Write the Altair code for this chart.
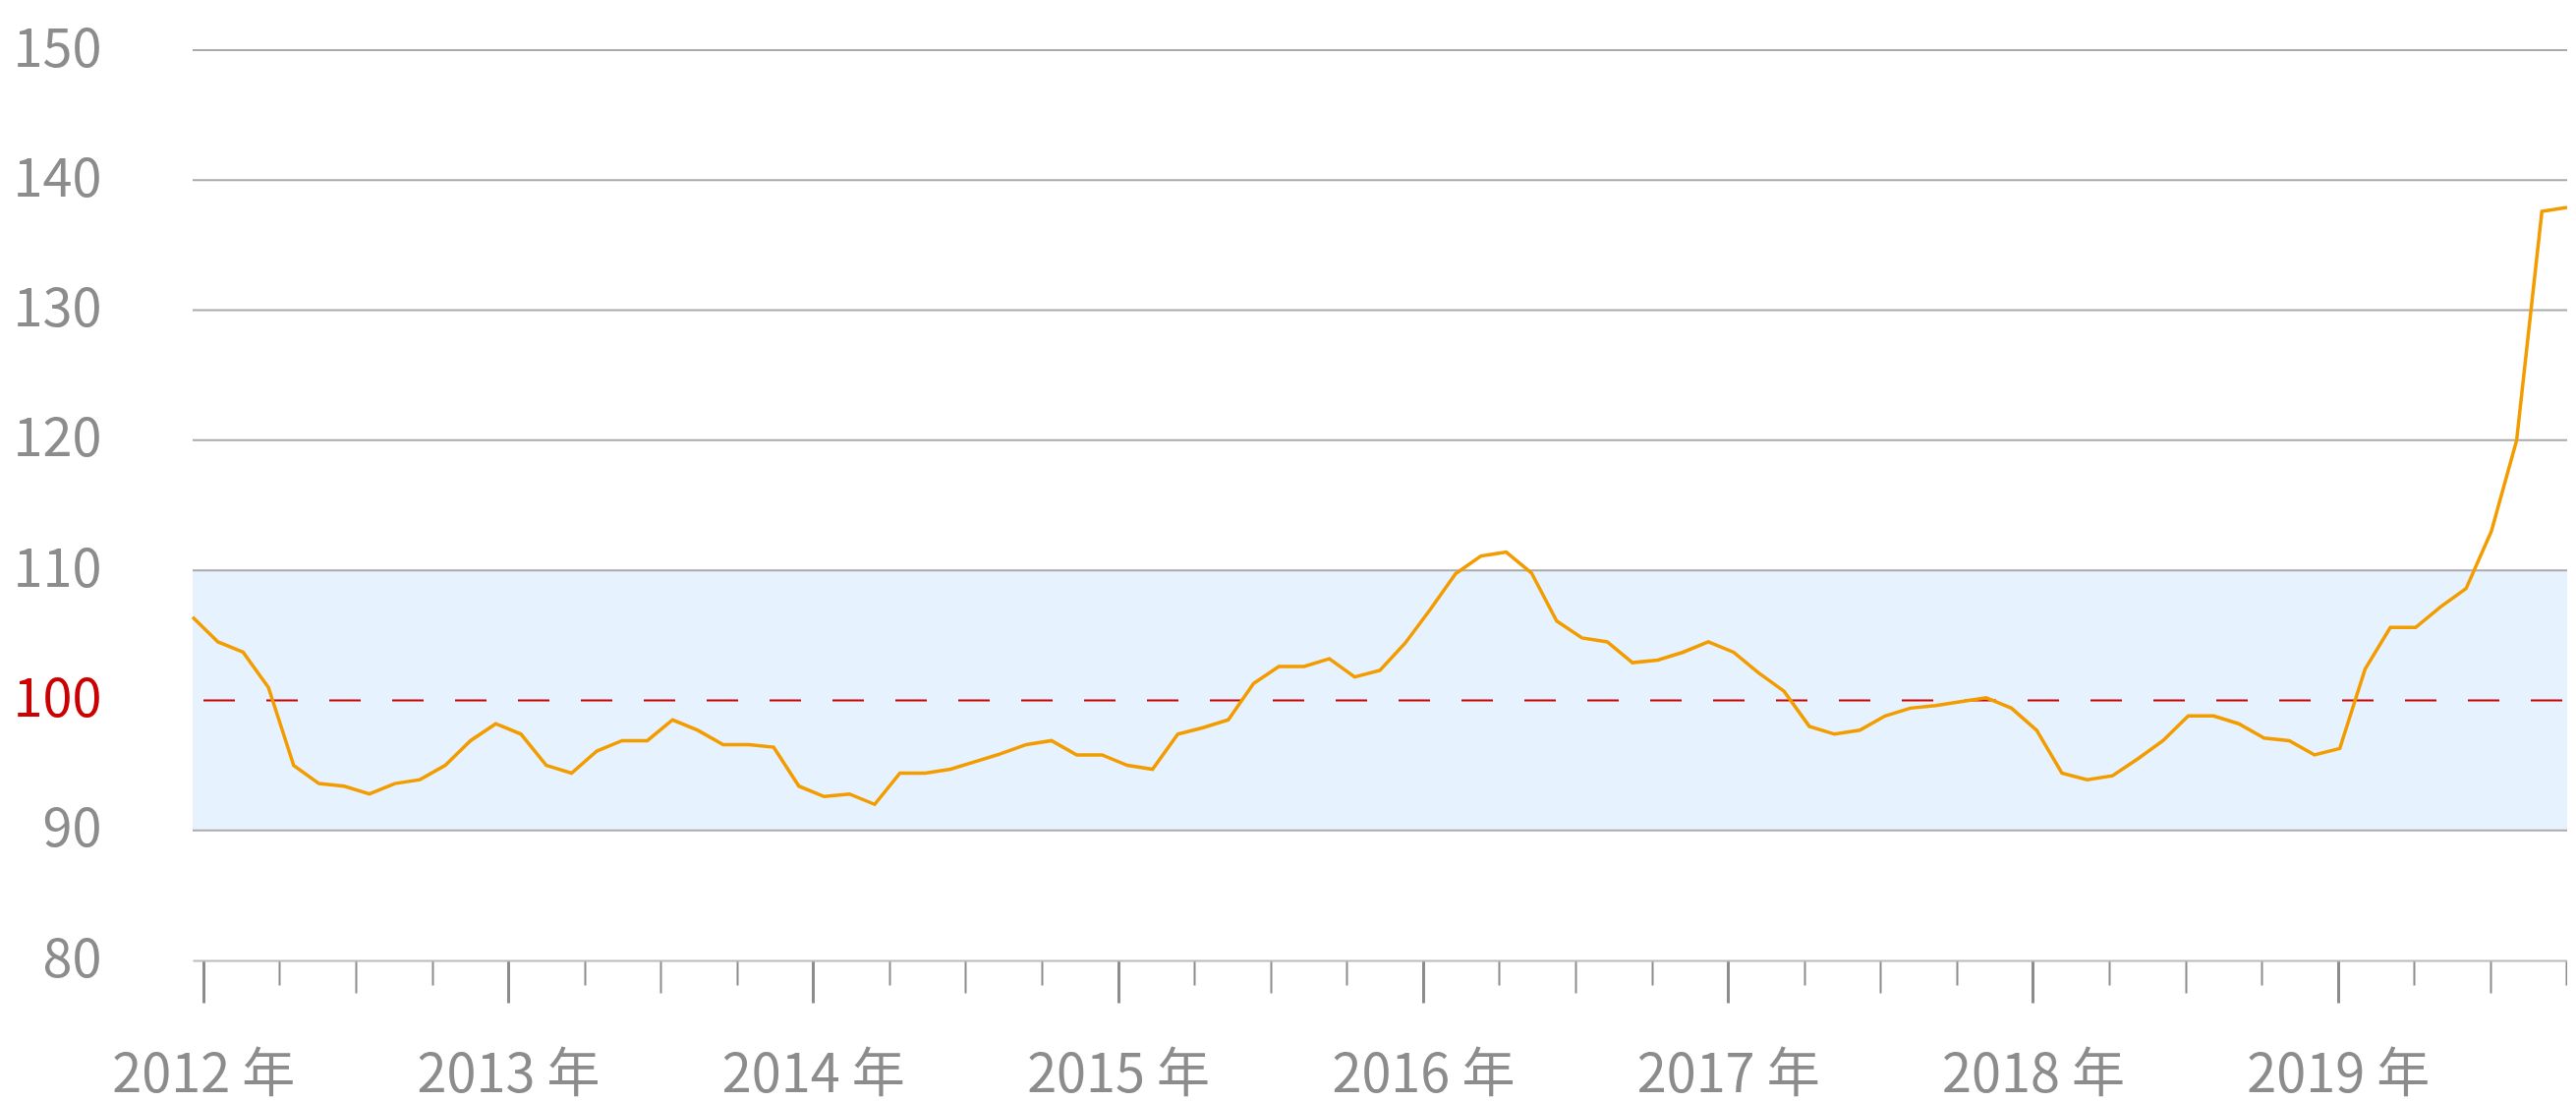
import json
import altair as alt
import pandas as pd

# monthly index values (first point = month 0)
values = [
    106.4, 104.5, 103.7, 101.0, 95.0, 93.6, 93.4, 92.8, 93.6, 93.9, 95.0, 96.9,
    98.2, 97.4, 95.0, 94.4, 96.1, 96.9, 96.9, 98.5, 97.7, 96.6, 96.6, 96.4,
    93.4, 92.6, 92.8, 92.0, 94.4, 94.4, 94.7, 95.3, 95.9, 96.6, 96.9, 95.8,
    95.8, 95.0, 94.7, 97.4, 97.9, 98.5, 101.3, 102.6, 102.6, 103.2, 101.8, 102.3,
    104.4, 107.0, 109.75, 111.1, 111.4, 109.8, 106.1, 104.8, 104.5, 102.9, 103.1, 103.7,
    104.5, 103.7, 102.1, 100.7, 98.0, 97.4, 97.7, 98.8, 99.4, 99.6, 99.9, 100.2,
    99.4, 97.7, 94.4, 93.9, 94.2, 95.5, 96.9, 98.8, 98.8, 98.2, 97.1, 96.9,
    95.8, 96.3, 102.4, 105.6, 105.6, 107.2, 108.6, 113.0, 120.0, 137.6, 137.9,
]
months = list(range(len(values)))

years = list(range(2012, 2020))
tick_positions = [round(0.42 + 3.018 * k, 3) for k in range(32)]
year_ticks = tick_positions[0::4]
half_ticks = tick_positions[2::4]
tick_labels = [f"{years[k // 4]} 年" if k % 4 == 0 else "" for k in range(32)]

y_ticks = [80, 90, 100, 110, 120, 130, 140, 150]
grid_lines = [90, 110, 120, 130, 140, 150]
ref_level = [100]
band_lo, band_hi = [90], [110]

FONT = "Noto Sans CJK JP"
GRAY = "#8c8c8c"

df = pd.DataFrame({"m": months, "v": values})
xscale = alt.Scale(domain=[0, len(values) - 1], nice=False, zero=False)
yscale = alt.Scale(domain=[80, 150], nice=False, zero=False)

yv = json.dumps(year_ticks)
hv = json.dumps(half_ticks)
label_expr = f"{json.dumps(tick_labels, ensure_ascii=False)}[indexof({json.dumps(tick_positions)}, datum.value)]"

xaxis = alt.Axis(
    values=tick_positions,
    labelExpr=label_expr,
    title=None,
    grid=False,
    domain=True,
    domainColor="#bbbbbb",
    domainWidth=2,
    tickColor=GRAY,
    tickSize={"condition": [
        {"test": f"indexof({yv}, datum.value) >= 0", "value": 43},
        {"test": f"indexof({hv}, datum.value) >= 0", "value": 33},
    ], "value": 25},
    tickWidth={"condition": {"test": f"indexof({yv}, datum.value) >= 0", "value": 3}, "value": 2},
    labelFont=FONT,
    labelFontSize=54,
    labelColor=GRAY,
    labelBaseline="alphabetic",
    labelPadding=90,
    labelLimit=0,
    labelFlush=False,
    labelOverlap=False,
)

yaxis = alt.Axis(
    values=y_ticks,
    title=None,
    grid=False,
    domain=False,
    ticks=False,
    labelFont=FONT,
    labelFontSize=54,
    labelLimit=0,
    labelColor={"condition": {"test": "datum.value == 100", "value": "#cc0000"}, "value": GRAY},
    labelPadding=93,
    labelBaseline="middle",
)

band = alt.Chart(pd.DataFrame({"lo": band_lo, "hi": band_hi})).mark_rect(color="#e6f2fd").encode(
    y=alt.Y("lo:Q", scale=yscale, axis=yaxis), y2="hi:Q"
)
grid = alt.Chart(pd.DataFrame({"g": grid_lines})).mark_rule(color="#aaaaaa", strokeWidth=2).encode(
    y=alt.Y("g:Q", scale=yscale, axis=yaxis)
)
ref = alt.Chart(pd.DataFrame({"r": ref_level})).mark_rule(
    color="#cc0000", strokeWidth=2, strokeDash=[32, 32], strokeDashOffset=-5
).encode(y=alt.Y("r:Q", scale=yscale, axis=yaxis))
line = alt.Chart(df).mark_line(color="#f39c00", strokeWidth=3.5).encode(
    x=alt.X("m:Q", scale=xscale, axis=xaxis),
    y=alt.Y("v:Q", scale=yscale, axis=yaxis),
)

chart = (
    alt.layer(band, grid, ref, line)
    .properties(
        width=2416,
        height=926,
        autosize="none",
        padding={"left": 188, "top": 43, "right": 0, "bottom": 143},
        view=alt.ViewBackground(stroke=None, strokeWidth=0, strokeOpacity=0),
    )
    .configure_view(stroke=None, strokeWidth=0, strokeOpacity=0)
    .configure(background="white")
)

chart.save("out.html", embed_options={"renderer": "svg", "actions": False})
